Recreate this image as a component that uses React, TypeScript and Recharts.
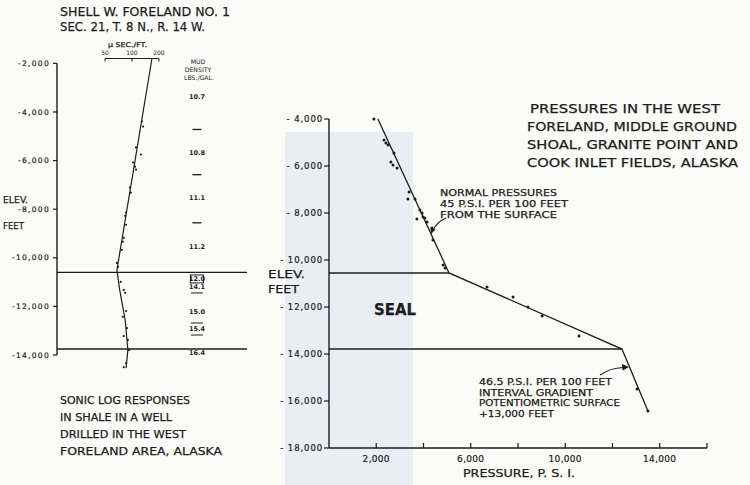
import React from "react";
import { ComposedChart, Line, Scatter, XAxis, YAxis, ReferenceLine } from "recharts";

const INK = "#1c1c1c";
const FONT = "'DejaVu Sans', Verdana, sans-serif";

// ---- left panel: sonic log in shale, Shell W. Foreland No. 1 ----
// v = transit time (microsec/ft, log scale), e = elevation (ft)
const sonicTrend = [
  { v: 167, e: -1800 },
  { v: 68, e: -10500 },
  { v: 73, e: -11320 },
  { v: 84, e: -12560 },
  { v: 90, e: -13790 },
  { v: 86, e: -14540 },
];
const sonicPoints = [
  { v: 129, e: -4390 },
  { v: 133, e: -4600 },
  { v: 111, e: -5460 },
  { v: 126, e: -5750 },
  { v: 103, e: -6080 },
  { v: 108, e: -6250 },
  { v: 111, e: -6370 },
  { v: 95, e: -7110 },
  { v: 97, e: -7320 },
  { v: 86, e: -8140 },
  { v: 84, e: -8270 },
  { v: 86, e: -8640 },
  { v: 81, e: -9180 },
  { v: 79, e: -9340 },
  { v: 77, e: -9670 },
  { v: 68, e: -10210 },
  { v: 70, e: -10370 },
  { v: 75, e: -10990 },
  { v: 81, e: -11320 },
  { v: 84, e: -11440 },
  { v: 86, e: -12190 },
  { v: 79, e: -12430 },
  { v: 88, e: -12890 },
  { v: 81, e: -13220 },
  { v: 90, e: -13380 },
  { v: 93, e: -13790 },
  { v: 86, e: -14330 },
  { v: 81, e: -14500 },
];
const sonicTicks = [50, 100, 200];
const sonicElevTicks = [-2000, -4000, -6000, -8000, -10000, -12000, -14000];
const sonicSeal = [-10600, -13750];

// mud density column
const mudElev = [-3360, -4720, -5670, -6580, -7530, -8560, -9550, -10870, -11200, -12230, -12930, -13920];
const mudText = ["10.7", "-", "10.8", "-", "11.1", "-", "11.2", "12.0", "14.1", "15.0", "15.4", "16.4"];
const mudMark = ["", "", "", "", "", "", "", "box", "under", "", "both", ""];

// ---- right panel: pressures, p = psi, e = elevation (ft) ----
const pressurePoints = [
  { p: 1900, e: -4000 },
  { p: 2330, e: -4890 },
  { p: 2410, e: -5020 },
  { p: 2500, e: -5110 },
  { p: 2750, e: -5450 },
  { p: 2620, e: -5830 },
  { p: 2710, e: -5960 },
  { p: 2880, e: -6090 },
  { p: 3390, e: -7110 },
  { p: 3340, e: -7400 },
  { p: 3640, e: -7400 },
  { p: 3850, e: -7870 },
  { p: 3940, e: -8000 },
  { p: 3980, e: -8170 },
  { p: 4060, e: -8210 },
  { p: 3720, e: -8260 },
  { p: 4150, e: -8380 },
  { p: 4360, e: -8640 },
  { p: 4400, e: -9150 },
  { p: 4830, e: -10210 },
  { p: 4910, e: -10340 },
  { p: 6690, e: -11150 },
  { p: 7790, e: -11570 },
  { p: 8420, e: -12000 },
  { p: 9020, e: -12380 },
  { p: 10580, e: -13230 },
  { p: 13040, e: -15490 },
  { p: 13500, e: -16430 },
];
const gradientTrend = [
  { p: 2070, e: -4000 },
  { p: 5080, e: -10550 },
  { p: 12400, e: -13790 },
  { p: 13500, e: -16430 },
];
const pressureTicks = [2000, 4000, 6000, 8000, 10000, 12000, 14000, 16000];
const pressureLabelled = [2000, 6000, 10000, 14000];
const pressureElevTicks = [-4000, -6000, -8000, -10000, -12000, -14000, -16000, -18000];

const SONIC_DOMAIN = [14.6, 1916];
const MUD_COLUMN = 530; // x position of the mud density column on the log scale

const mudData = mudElev.map((e, i) => ({ v: MUD_COLUMN, e, text: mudText[i], mark: mudMark[i] }));

const fmt = (n: number) => Math.abs(n).toLocaleString("en-US");

const SmallDot = (props: any) => <circle cx={props.cx} cy={props.cy} r={1.1} fill={INK} />;
const PressureDot = (props: any) => <circle cx={props.cx} cy={props.cy} r={1.5} fill={INK} />;

const MudLabel = (props: any) => {
  const { cx, cy, payload } = props;
  if (payload.text === "-") {
    return <line x1={cx - 4.5} x2={cx + 4.5} y1={cy} y2={cy} stroke={INK} strokeWidth={1.3} />;
  }
  return (
    <g>
      <text x={cx} y={cy + 2.4} textAnchor="middle" fontSize={6.5} fontWeight="bold" fill={INK} fontFamily={FONT}>
        {payload.text}
      </text>
      {payload.mark === "box" && (
        <rect x={cx - 6.5} y={cy - 4} width={13} height={8} fill="none" stroke={INK} strokeWidth={1} />
      )}
      {(payload.mark === "under" || payload.mark === "both") && (
        <line x1={cx - 6} x2={cx + 6} y1={cy + 6} y2={cy + 6} stroke={INK} strokeWidth={1} />
      )}
      {payload.mark === "both" && (
        <line x1={cx - 6} x2={cx + 6} y1={cy - 6} y2={cy - 6} stroke={INK} strokeWidth={1} />
      )}
    </g>
  );
};

const SonicTick = (props: any) => {
  const { x, y, payload } = props;
  return (
    <g>
      <line x1={x} x2={x} y1={y} y2={y + 3} stroke={INK} strokeWidth={1} />
      <text x={x} y={y - 4} textAnchor="middle" fontSize={6} fill={INK} fontFamily={FONT}>
        {payload.value}
      </text>
    </g>
  );
};

const LeftElevTick = (props: any) => {
  const { x, y, payload } = props;
  return (
    <text
      x={x - 1}
      y={y + 2.7}
      textAnchor="end"
      fontSize={7.5}
      letterSpacing={1.3}
      fill={INK}
      stroke={INK}
      strokeWidth={0.2}
      fontFamily={FONT}
    >
      {"-" + fmt(payload.value)}
    </text>
  );
};

const RightElevTick = (props: any) => {
  const { x, y, payload } = props;
  return (
    <text
      x={x + 1}
      y={y + 3}
      textAnchor="end"
      fontSize={8.5}
      letterSpacing={0.9}
      fill={INK}
      stroke={INK}
      strokeWidth={0.2}
      fontFamily={FONT}
    >
      {"- " + fmt(payload.value)}
    </text>
  );
};

const PressureTick = (props: any) => {
  const { x, y, payload } = props;
  return (
    <g>
      <line x1={x} x2={x} y1={y} y2={y - 5} stroke={INK} strokeWidth={1.2} />
      {pressureLabelled.includes(payload.value) && (
        <text
          x={x}
          y={y + 14}
          textAnchor="middle"
          fontSize={9}
          letterSpacing={0.3}
          fill={INK}
          stroke={INK}
          strokeWidth={0.2}
          fontFamily={FONT}
        >
          {fmt(payload.value)}
        </text>
      )}
    </g>
  );
};

type TProps = { x: number; y: number; w: number; size: number; bold?: boolean; children: string };
const T = ({ x, y, w, size, bold, children }: TProps) => (
  <text
    x={x}
    y={y}
    fontSize={size}
    fontWeight={bold ? "bold" : "normal"}
    textLength={w}
    lengthAdjust="spacingAndGlyphs"
    fill={INK}
    stroke={INK}
    strokeWidth={0.25}
    fontFamily={FONT}
  >
    {children}
  </text>
);

function SonicPanel() {
  return (
    <ComposedChart width={260} height={380} margin={{ top: 38.5, right: 13, bottom: 10.4, left: 0 }}>
      <XAxis
        xAxisId="s"
        dataKey="v"
        type="number"
        scale="log"
        orientation="top"
        domain={SONIC_DOMAIN}
        ticks={sonicTicks}
        interval={0}
        height={20}
        axisLine={false}
        tickLine={false}
        tickSize={0}
        tickMargin={0}
        tick={SonicTick}
      />
      <YAxis
        yAxisId="s"
        dataKey="e"
        type="number"
        domain={[-14600, -1800]}
        ticks={sonicElevTicks}
        interval={0}
        width={57}
        axisLine={false}
        tickLine={{ stroke: INK, strokeWidth: 1.2 }}
        tickSize={4}
        tickMargin={2}
        tick={LeftElevTick}
      />
      <ReferenceLine
        xAxisId="s"
        yAxisId="s"
        ifOverflow="visible"
        segment={[
          { x: SONIC_DOMAIN[0], y: sonicElevTicks[0] },
          { x: SONIC_DOMAIN[0], y: sonicElevTicks[sonicElevTicks.length - 1] },
        ]}
        stroke={INK}
        strokeWidth={1.4}
      />
      <ReferenceLine
        xAxisId="s"
        yAxisId="s"
        ifOverflow="visible"
        segment={[
          { x: sonicTicks[0], y: -1800 },
          { x: sonicTicks[sonicTicks.length - 1], y: -1800 },
        ]}
        stroke={INK}
        strokeWidth={1.2}
      />
      {sonicSeal.map((e) => (
        <ReferenceLine key={e} xAxisId="s" yAxisId="s" y={e} stroke={INK} strokeWidth={1.4} />
      ))}
      <Line
        xAxisId="s"
        yAxisId="s"
        data={sonicTrend}
        dataKey="e"
        type="linear"
        stroke={INK}
        strokeWidth={1.2}
        dot={false}
        isAnimationActive={false}
      />
      <Scatter xAxisId="s" yAxisId="s" data={sonicPoints} dataKey="e" shape={SmallDot} isAnimationActive={false} />
      <Scatter xAxisId="s" yAxisId="s" data={mudData} dataKey="e" shape={MudLabel} isAnimationActive={false} />
    </ComposedChart>
  );
}

function PressurePanel() {
  return (
    <ComposedChart width={500} height={485} margin={{ top: 119, right: 43, bottom: 0, left: 0 }}>
      <XAxis
        dataKey="p"
        type="number"
        domain={[0, 16000]}
        ticks={pressureTicks}
        interval={0}
        height={37}
        axisLine={{ stroke: INK, strokeWidth: 1.4 }}
        tickLine={false}
        tickSize={0}
        tickMargin={0}
        tick={PressureTick}
      />
      <YAxis
        dataKey="e"
        type="number"
        domain={[-18000, -4000]}
        ticks={pressureElevTicks}
        interval={0}
        width={79}
        axisLine={{ stroke: INK, strokeWidth: 1.4 }}
        tickLine={{ stroke: INK, strokeWidth: 1.2 }}
        tickSize={5}
        tickMargin={2}
        tick={RightElevTick}
      />
      <ReferenceLine
        ifOverflow="visible"
        segment={[
          { x: 0, y: gradientTrend[1].e },
          { x: gradientTrend[1].p, y: gradientTrend[1].e },
        ]}
        stroke={INK}
        strokeWidth={1.4}
      />
      <ReferenceLine
        ifOverflow="visible"
        segment={[
          { x: 0, y: gradientTrend[2].e },
          { x: gradientTrend[2].p, y: gradientTrend[2].e },
        ]}
        stroke={INK}
        strokeWidth={1.4}
      />
      <Line
        data={gradientTrend}
        dataKey="e"
        type="linear"
        stroke={INK}
        strokeWidth={1.3}
        dot={false}
        isAnimationActive={false}
      />
      <Scatter data={pressurePoints} dataKey="e" shape={PressureDot} isAnimationActive={false} />
    </ComposedChart>
  );
}

export default function App() {
  return (
    <div style={{ position: "relative", width: 750, height: 485, background: "#fbfbf8", overflow: "hidden" }}>
      <style>{"body{margin:0}"}</style>
      <div style={{ position: "absolute", left: 285, top: 132, width: 128, height: 353, background: "#e8eef4" }} />
      <div style={{ position: "absolute", left: 0, top: 0 }}>
        <SonicPanel />
      </div>
      <div style={{ position: "absolute", left: 250, top: 0 }}>
        <PressurePanel />
      </div>
      <svg width={750} height={485} style={{ position: "absolute", left: 0, top: 0, pointerEvents: "none" }}>
        <T x={60} y={16} w={170} size={12.5}>SHELL W. FORELAND NO. 1</T>
        <T x={60} y={31} w={145} size={12.5}>SEC. 21, T. 8 N., R. 14 W.</T>

        <T x={108} y={47} w={39} size={6.5}>µ SEC./FT.</T>
        <text x={198} y={64} textAnchor="middle" fontSize={6.2} fill={INK} fontFamily={FONT}>MUD</text>
        <text x={198} y={72} textAnchor="middle" fontSize={6.2} fill={INK} fontFamily={FONT}>DENSITY</text>
        <text x={199} y={80} textAnchor="middle" fontSize={6.2} fill={INK} fontFamily={FONT}>LBS./GAL.</text>

        <T x={3} y={203} w={25} size={9}>ELEV.</T>
        <T x={3} y={229} w={21} size={9}>FEET</T>

        <T x={60} y={404} w={130} size={10.5}>SONIC LOG RESPONSES</T>
        <T x={60} y={421} w={112} size={10.5}>IN SHALE IN A WELL</T>
        <T x={60} y={438} w={126} size={10.5}>DRILLED IN THE WEST</T>
        <T x={60} y={455} w={162} size={10.5}>FORELAND AREA, ALASKA</T>

        <T x={530} y={113} w={190} size={12}>PRESSURES IN THE WEST</T>
        <T x={527} y={131} w={210} size={12}>FORELAND, MIDDLE GROUND</T>
        <T x={527} y={149} w={211} size={12}>SHOAL, GRANITE POINT AND</T>
        <T x={527} y={167} w={211} size={12}>COOK INLET FIELDS, ALASKA</T>

        <T x={440} y={196} w={117} size={9}>NORMAL PRESSURES</T>
        <T x={440} y={207} w={128} size={9}>45 P.S.I. PER 100 FEET</T>
        <T x={440} y={217.5} w={117} size={9}>FROM THE SURFACE</T>
        <path d="M446,218 Q437,222 433,230" fill="none" stroke={INK} strokeWidth={1.1} />
        <path d="M431,234 L430.5,227.5 L435.5,229.5 Z" fill={INK} />

        <T x={268} y={278} w={37} size={10.5}>ELEV.</T>
        <T x={268} y={293} w={31} size={10.5}>FEET</T>
        <T x={374} y={315} w={42} size={16} bold>SEAL</T>

        <T x={479} y={385} w={133} size={9}>46.5 P.S.I. PER 100 FEET</T>
        <T x={479} y={395.5} w={114} size={9}>INTERVAL GRADIENT</T>
        <T x={479} y={406} w={141} size={9}>POTENTIOMETRIC SURFACE</T>
        <T x={479} y={416.5} w={75} size={9}>+13,000 FEET</T>
        <path d="M600,375 Q610,368 623,367.5" fill="none" stroke={INK} strokeWidth={1.1} />
        <path d="M629,367 L622,364 L622.5,370.5 Z" fill={INK} />

        <T x={463} y={477} w={112} size={11}>PRESSURE, P. S. I.</T>
      </svg>
    </div>
  );
}
